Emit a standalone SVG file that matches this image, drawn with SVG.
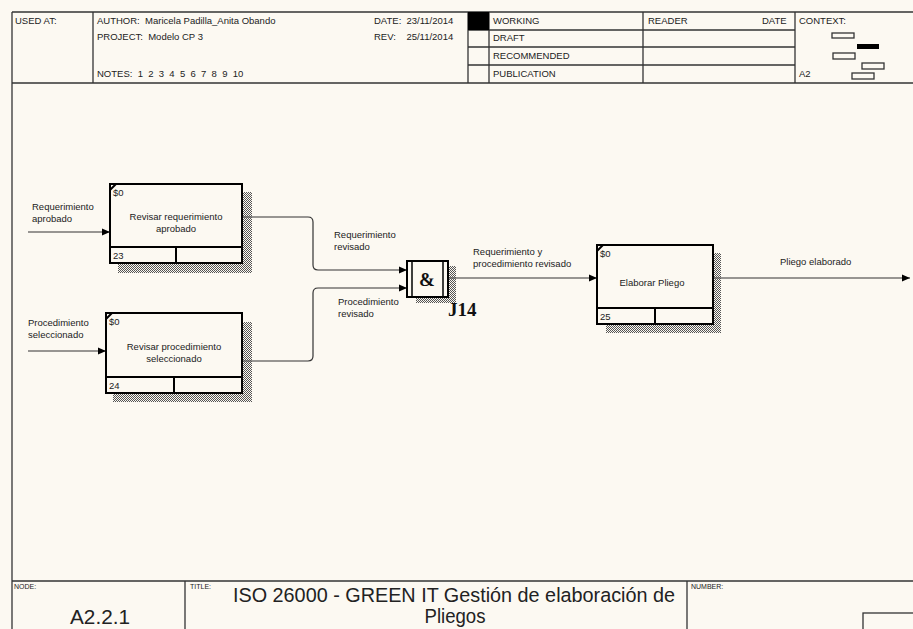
<svg xmlns="http://www.w3.org/2000/svg" width="913" height="629" viewBox="0 0 913 629">
<style>
  text { font-family: "Liberation Sans", Arial, sans-serif; fill: #222; white-space: pre; }
  .hd { font-size: 9.5px; }
  .lb { font-size: 9.5px; }
  .tiny { font-size: 7px; }
  .frame { fill: none; stroke: #333; stroke-width: 1.3; }
  .box { fill: none; stroke: #000; stroke-width: 2; }
  .cn { fill: none; stroke: #333; stroke-width: 1.2; }
  .shadow { fill: url(#hatch); }
  .ctx { fill: none; stroke: #333; stroke-width: 1.3; }
  .serif { font-family: "Liberation Serif", "Times New Roman", serif; font-weight: bold; fill: #111; }
</style>
<defs>
  <pattern id="hatch" width="2" height="2" patternUnits="userSpaceOnUse">
    <rect x="0" y="0" width="1" height="1" fill="#555"/>
    <rect x="1" y="1" width="1" height="1" fill="#555"/>
  </pattern>
  <marker id="arr" markerWidth="8" markerHeight="8" refX="8" refY="4" orient="auto" markerUnits="userSpaceOnUse">
    <path d="M0,0.5 L8,4 L0,7.5 z" fill="#000"/>
  </marker>
</defs>
<rect width="913" height="629" fill="#fcf9f2"/>

<g id="header">
  <line class="frame" x1="12" y1="12" x2="913" y2="12"/>
  <line class="frame" x1="12" y1="12" x2="12" y2="629"/>
  <line class="frame" x1="12" y1="83" x2="913" y2="83"/>
  <line class="frame" x1="93" y1="12" x2="93" y2="83"/>
  <line class="frame" x1="468" y1="12" x2="468" y2="83"/>
  <line class="frame" x1="489" y1="12" x2="489" y2="83"/>
  <line class="frame" x1="643" y1="12" x2="643" y2="83"/>
  <line class="frame" x1="795" y1="12" x2="795" y2="83"/>
  <line class="frame" x1="468" y1="30" x2="795" y2="30"/>
  <line class="frame" x1="468" y1="47" x2="795" y2="47"/>
  <line class="frame" x1="468" y1="65" x2="795" y2="65"/>
  <rect x="468" y="12" width="21" height="18" fill="#000"/>
  <text class="hd" x="15" y="24">USED AT:</text>
  <text class="hd" x="97" y="24">AUTHOR:  Maricela Padilla_Anita Obando</text>
  <text class="hd" x="97" y="40">PROJECT:  Modelo CP 3</text>
  <text class="hd" x="97" y="77">NOTES:  1  2  3  4  5  6  7  8  9  10</text>
  <text class="hd" x="374" y="24">DATE:  23/11/2014</text>
  <text class="hd" x="374" y="40">REV:    25/11/2014</text>
  <text class="hd" x="493" y="24">WORKING</text>
  <text class="hd" x="493" y="41">DRAFT</text>
  <text class="hd" x="493" y="59">RECOMMENDED</text>
  <text class="hd" x="493" y="77">PUBLICATION</text>
  <text class="hd" x="648" y="24">READER</text>
  <text class="hd" x="762" y="24">DATE</text>
  <text class="hd" x="799" y="24">CONTEXT:</text>
  <text class="hd" x="799" y="77">A2</text>
  <rect class="ctx" x="832" y="33" width="22" height="5"/>
  <rect x="857" y="44" width="22" height="5" fill="#000"/>
  <rect class="ctx" x="833" y="53" width="22" height="6"/>
  <rect class="ctx" x="862" y="63" width="22" height="6"/>
  <rect class="ctx" x="852" y="73" width="22" height="6"/>
</g>

<g id="footer">
  <line class="frame" x1="12" y1="581" x2="913" y2="581"/>
  <line class="frame" x1="185" y1="581" x2="185" y2="629"/>
  <line class="frame" x1="687" y1="581" x2="687" y2="629"/>
  <rect class="frame" x="863" y="613" width="60" height="30"/>
  <text class="tiny" x="14" y="589">NODE:</text>
  <text class="tiny" x="190" y="589">TITLE:</text>
  <text class="tiny" x="691" y="589">NUMBER:</text>
  <text x="70" y="624" font-size="20" textLength="60" lengthAdjust="spacingAndGlyphs">A2.2.1</text>
  <text x="233" y="602" font-size="20.5" textLength="442" lengthAdjust="spacingAndGlyphs">ISO 26000 - GREEN IT Gestión de elaboración de</text>
  <text x="455" y="623" font-size="20.5" textLength="61" lengthAdjust="spacingAndGlyphs" text-anchor="middle">Pliegos</text>
</g>

<g id="connectors">
  <path class="cn" d="M28,232 H110" marker-end="url(#arr)"/>
  <path class="cn" d="M28,351 H106" marker-end="url(#arr)"/>
  <path class="cn" d="M242,217 H308 Q313,217 313,222 V265 Q313,270 318,270 H407" marker-end="url(#arr)"/>
  <path class="cn" d="M242,361 H308 Q313,361 313,356 V293 Q313,288 318,288 H407" marker-end="url(#arr)"/>
  <path class="cn" d="M448,278 H597" marker-end="url(#arr)"/>
  <path class="cn" d="M713,278 H910" marker-end="url(#arr)"/>
  <text class="lb" x="32" y="210">Requerimiento</text>
  <text class="lb" x="32" y="222">aprobado</text>
  <text class="lb" x="28" y="326">Procedimiento</text>
  <text class="lb" x="28" y="338">seleccionado</text>
  <text class="lb" x="334" y="238">Requerimiento</text>
  <text class="lb" x="334" y="250">revisado</text>
  <text class="lb" x="338" y="305">Procedimiento</text>
  <text class="lb" x="338" y="317">revisado</text>
  <text class="lb" x="473" y="255">Requerimiento y</text>
  <text class="lb" x="473" y="267">procedimiento revisado</text>
  <text class="lb" x="780" y="265">Pliego elaborado</text>
</g>

<g id="node23">
  <rect class="shadow" x="242" y="192" width="10" height="81"/>
  <rect class="shadow" x="118" y="263" width="134" height="10"/>
  <rect x="110" y="184" width="132" height="79" fill="#fcf9f2" class="box"/>
  <line class="box" x1="110" y1="247" x2="242" y2="247"/>
  <line class="box" x1="176" y1="247" x2="176" y2="263"/>
  <line x1="110" y1="190" x2="116" y2="184" stroke="#000" stroke-width="2"/>
  <text class="lb" x="113" y="196">$0</text>
  <text class="lb" x="176" y="220" text-anchor="middle">Revisar requerimiento</text>
  <text class="lb" x="176" y="232" text-anchor="middle">aprobado</text>
  <text class="lb" x="113" y="259">23</text>
</g>

<g id="node24">
  <rect class="shadow" x="242" y="322" width="10" height="80"/>
  <rect class="shadow" x="113" y="393" width="139" height="9"/>
  <rect x="106" y="313" width="136" height="80" fill="#fcf9f2" class="box"/>
  <line class="box" x1="106" y1="377" x2="242" y2="377"/>
  <line class="box" x1="174" y1="377" x2="174" y2="393"/>
  <line x1="106" y1="319" x2="112" y2="313" stroke="#000" stroke-width="2"/>
  <text class="lb" x="109" y="325">$0</text>
  <text class="lb" x="174" y="350" text-anchor="middle">Revisar procedimiento</text>
  <text class="lb" x="174" y="362" text-anchor="middle">seleccionado</text>
  <text class="lb" x="109" y="389">24</text>
</g>

<g id="J14">
  <rect class="shadow" x="448" y="266" width="8" height="37"/>
  <rect class="shadow" x="416" y="297" width="40" height="6"/>
  <rect x="407" y="261" width="41" height="36" fill="#fcf9f2" stroke="#000" stroke-width="2"/>
  <line x1="412" y1="261" x2="412" y2="297" stroke="#000" stroke-width="1.5"/>
  <line x1="443" y1="261" x2="443" y2="297" stroke="#000" stroke-width="1.5"/>
  <text class="serif" x="427" y="286" font-size="19" text-anchor="middle">&amp;</text>
  <text class="serif" x="448" y="316" font-size="19">J14</text>
</g>

<g id="node25">
  <rect class="shadow" x="713" y="253" width="8" height="80"/>
  <rect class="shadow" x="606" y="324" width="115" height="9"/>
  <rect x="597" y="245" width="116" height="79" fill="#fcf9f2" class="box"/>
  <line class="box" x1="597" y1="308" x2="713" y2="308"/>
  <line class="box" x1="655" y1="308" x2="655" y2="324"/>
  <line x1="597" y1="251" x2="603" y2="245" stroke="#000" stroke-width="2"/>
  <text class="lb" x="600" y="257">$0</text>
  <text class="lb" x="652" y="286" text-anchor="middle">Elaborar Pliego</text>
  <text class="lb" x="600" y="320">25</text>
</g>
</svg>
